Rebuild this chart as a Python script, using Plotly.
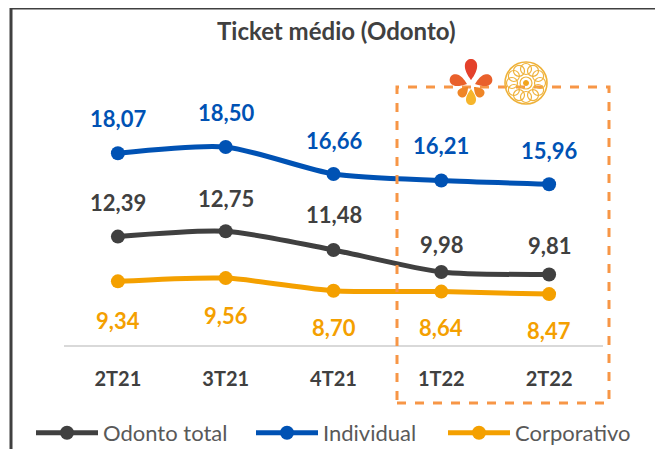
import math
import plotly.graph_objects as go

# ---------------- data ----------------
categories = ["2T21", "3T21", "4T21", "1T22", "2T22"]
odonto_total = [12.39, 12.75, 11.48, 9.98, 9.81]
individual = [18.07, 18.50, 16.66, 16.21, 15.96]
corporativo = [9.34, 9.56, 8.70, 8.64, 8.47]
series_names = ["Odonto total", "Individual", "Corporativo"]
title_text = "Ticket médio (Odonto)"

# ---------------- layout helpers ----------------
OFF = 8                      # page body margin
W, H = 663 - OFF, 449 - OFF  # figure size so it fits the window
PLOT_L, PLOT_R, PLOT_T, PLOT_B = 64, 603, 100, 345   # in window pixels
ML = PLOT_L - OFF
MT = PLOT_T - OFF
MR = W - (PLOT_R - OFF)
MB = H - (PLOT_B - OFF)
PW, PH = PLOT_R - PLOT_L, PLOT_B - PLOT_T
FONT = "Lato"


def px(x):
    return (x - PLOT_L) / PW


def py(y):
    return (PLOT_B - y) / PH


C_TOTAL = "#404040"
C_IND = "#0052B4"
C_CORP = "#F4A000"
C_BOX = "#F79646"

series = [
    (series_names[0], odonto_total, C_TOTAL, [34, 33, 35, 27, 29], "legend", 31),
    (series_names[1], individual, C_IND, [35, 34, 33, 35, 34], "legend2", 251),
    (series_names[2], corporativo, C_CORP, [-39, -37, -37, -36, -36], "legend3", 443),
]

fig = go.Figure()
annotations = []
legends = {}
for name, vals, col, shifts, lg, lgx in series:
    fig.add_trace(go.Scatter(
        x=categories, y=vals, name=name, mode="lines+markers",
        line=dict(color=col, width=5, shape="spline", smoothing=0.7),
        marker=dict(color=col, size=14),
        hoverinfo="skip", legend=lg,
    ))
    legends[lg] = dict(orientation="h", x=px(lgx), xanchor="left",
                       y=py(433), yanchor="middle",
                       bgcolor="rgba(0,0,0,0)",
                       font=dict(family=FONT, size=22, color="#595959"),
                       itemwidth=62)
    for c, v, s in zip(categories, vals, shifts):
        annotations.append(dict(
            x=c, y=v, xref="x", yref="y", text=f"{v:.2f}".replace(".", ","),
            showarrow=False, yshift=s,
            font=dict(family=FONT, size=22, color=col, weight="bold"),
        ))

# title
annotations.append(dict(
    x=px(337), y=py(31), xref="paper", yref="paper", text=f"<b>{title_text}</b>",
    showarrow=False, xanchor="center", yanchor="middle",
    font=dict(family=FONT, size=24, color="#404040"),
))

shapes = []
# outer frame
shapes.append(dict(type="rect", xref="paper", yref="paper",
                   x0=px(11), x1=px(658), y0=py(470), y1=py(8),
                   line=dict(color="#404040", width=3), layer="below"))
# dashed highlight box
shapes.append(dict(type="rect", xref="paper", yref="paper",
                   x0=px(397), x1=px(609), y0=py(403), y1=py(87),
                   line=dict(color=C_BOX, width=3, dash="dash")))


# flower logo
def teardrop(tip, end, w, n=48):
    tx, ty = tip
    ex, ey = end
    L = math.hypot(ex - tx, ey - ty)
    ux, uy = (ex - tx) / L, (ey - ty) / L
    vx, vy = -uy, ux
    pts = []
    for i in range(n):
        t = 2 * math.pi * i / n
        u = L * (1 - math.cos(t)) / 2
        v = w * math.sin(t) * math.sin(t / 2)
        X = tx + ux * u + vx * v
        Y = ty + uy * u + vy * v
        pts.append(f"{px(X):.5f},{py(Y):.5f}")
    return "M " + " L ".join(pts) + " Z"


petals = [
    ((471, 80), (471, 59), 8, "#E4412B"),
    ((467, 84), (450, 78), 7.5, "#E9602B"),
    ((475, 84), (492, 78), 7.5, "#E9602B"),
    ((468, 87), (459, 96), 6, "#EF8526"),
    ((474, 87), (483, 96), 6, "#EF8526"),
    ((471, 89), (471, 105), 6.5, "#F6B52B"),
]
for tip, end, w, col in petals:
    shapes.append(dict(type="path", xref="paper", yref="paper",
                       path=teardrop(tip, end, w),
                       fillcolor=col, line=dict(width=0)))


# golden ornament
def circ(cx, cy, r, col, width=1.4, fill=None):
    return dict(type="circle", xref="paper", yref="paper",
                x0=px(cx - r), x1=px(cx + r), y0=py(cy + r), y1=py(cy - r),
                line=dict(color=col, width=width),
                fillcolor=fill if fill else "rgba(0,0,0,0)")


GOLD = "#EFB23A"
ox, oy = 526, 83
shapes.append(circ(ox, oy, 21, GOLD, 1.6))
for k in range(12):
    a = 2 * math.pi * k / 12
    shapes.append(circ(ox + 14 * math.cos(a), oy + 14 * math.sin(a), 5.5, GOLD, 1.2))
shapes.append(circ(ox, oy, 6, GOLD, 1.2))
shapes.append(circ(ox, oy, 2.5, "#F2A51C", 1, "#F2A51C"))

fig.update_layout(
    width=W, height=H,
    margin=dict(l=ML, r=MR, t=MT, b=MB, autoexpand=False),
    paper_bgcolor="white", plot_bgcolor="white",
    showlegend=True,
    xaxis=dict(type="category", range=[-0.5, 4.5], showgrid=False,
               showline=True, linecolor="#D9D9D9", linewidth=2,
               ticks="", ticklabelstandoff=15,
               tickfont=dict(family=FONT, size=20, color="#404040", weight="bold"),
               fixedrange=True),
    yaxis=dict(range=[5.0, 21.7], visible=False, fixedrange=True),
    annotations=annotations,
    shapes=shapes,
    **legends,
)

fig.write_html("out.html")
